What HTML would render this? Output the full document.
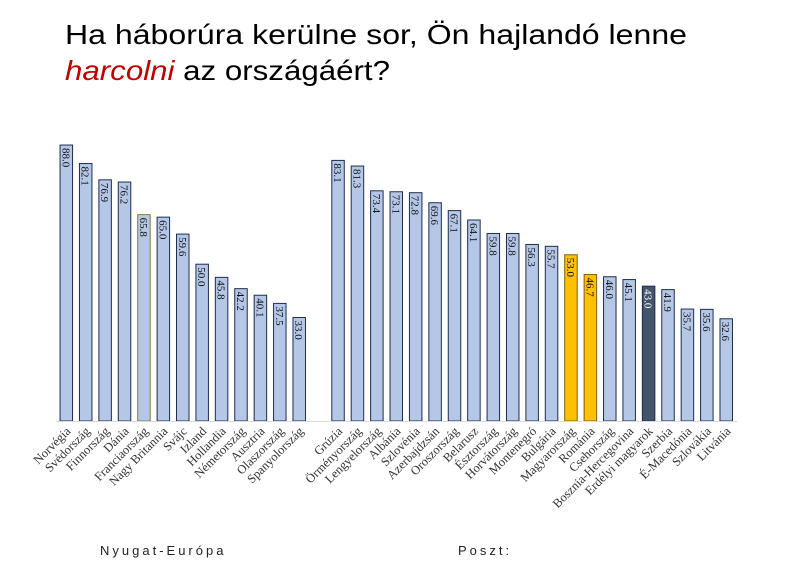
<!DOCTYPE html>
<html><head><meta charset="utf-8"><style>
html,body{margin:0;padding:0;background:#fff;width:800px;height:566px;overflow:hidden}
svg{display:block}
</style></head><body>
<svg id="chart" width="800" height="566" xmlns="http://www.w3.org/2000/svg">
<text x="65" y="44" font-family="Liberation Sans, sans-serif" font-size="28" fill="#000" textLength="622" lengthAdjust="spacingAndGlyphs">Ha háborúra kerülne sor, Ön hajlandó lenne</text>
<text x="65" y="80" font-family="Liberation Sans, sans-serif" font-size="28" fill="#000" textLength="325" lengthAdjust="spacingAndGlyphs"><tspan fill="#c00000" font-style="italic">harcolni</tspan> az országáért?</text>
<g id="bars"></g>
<g id="vals"></g>
<g id="cats"></g>
<line x1="56" y1="421.5" x2="737" y2="421.5" stroke="#d9d9d9" stroke-width="1"/>
<text x="100" y="555" font-family="Liberation Sans, sans-serif" font-size="13" letter-spacing="3" fill="#222">Nyugat-Európa</text>
<text x="458" y="555" font-family="Liberation Sans, sans-serif" font-size="13" letter-spacing="3" fill="#222">Poszt:</text>
</svg>
<script>
const categories = ["Norvégia","Svédország","Finnország","Dánia","Franciaország","Nagy Britannia","Svájc","Izland","Hollandia","Németország","Ausztria","Olaszország","Spanyolország","","Grúzia","Örményország","Lengyelország","Albánia","Szlovénia","Azerbajdzsán","Oroszország","Belarusz","Észtország","Horvátország","Montenegró","Bulgária","Magyarország","Románia","Csehország","Bosznia-Hercegovina","Erdélyi magyarok","Szerbia","É-Macedónia","Szlovákia","Litvánia"];
const values = [88.0,82.1,76.9,76.2,65.8,65.0,59.6,50.0,45.8,42.2,40.1,37.5,33.0,null,83.1,81.3,73.4,73.1,72.8,69.6,67.1,64.1,59.8,59.8,56.3,55.7,53.0,46.7,46.0,45.1,43.0,41.9,35.7,35.6,32.6];
const highlight = {"Magyarország":"yellow","Románia":"yellow","Erdélyi magyarok":"dark"};
const NS="http://www.w3.org/2000/svg";
const x0=66.3, step=19.41, baseY=421, scale=3.136, bw=12.5;
const xc=i=>x0+i*step;
const yv=v=>baseY-v*scale;
const gB=document.getElementById('bars'),gV=document.getElementById('vals'),gC=document.getElementById('cats');
categories.forEach((c,i)=>{
  const v=values[i];
  if(v!==null){
    const r=document.createElementNS(NS,'rect');
    
    
    const h=highlight[c];
    r.setAttribute('x',xc(i)-bw/2);r.setAttribute('y',yv(v));
    r.setAttribute('width',bw);r.setAttribute('height',baseY-yv(v));
    r.setAttribute('fill',h==='yellow'?'#ffc000':h==='dark'?'#44546a':'#b4c7e7');
    r.setAttribute('stroke',h==='yellow'?'#7f6000':(c==='Franciaország'?'#8a7a30':'#1f2d4d'));
    r.setAttribute('stroke-width','1');
    gB.appendChild(r);
    const t=document.createElementNS(NS,'text');
    
    
    const tx=xc(i)-4, ty=yv(v)+3;
    t.setAttribute('transform','translate('+tx+','+ty+') rotate(90)');
    t.setAttribute('font-family','Liberation Serif, serif');
    t.setAttribute('font-size','11');
    t.setAttribute('fill',h==='dark'?'#fff':'#111');
    t.textContent=v.toFixed(1);
    gV.appendChild(t);
  }
  if(c){
    const t=document.createElementNS(NS,'text');
    
    
    t.setAttribute('transform','translate('+(xc(i)+5)+',432) rotate(-45)');
    t.setAttribute('text-anchor','end');
    t.setAttribute('font-family','Liberation Serif, serif');
    t.setAttribute('font-size','12.5');
    t.setAttribute('fill','#333');
    t.textContent=c;
    gC.appendChild(t);
  }
});
</script>
</body></html>
